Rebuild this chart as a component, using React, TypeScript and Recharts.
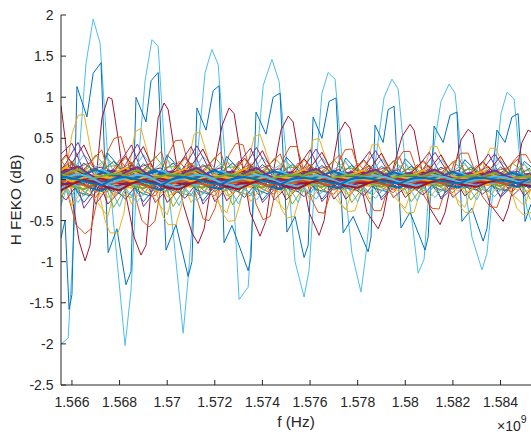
import React from 'react';
import { LineChart, Line, XAxis, YAxis } from 'recharts';

// frequency axis in MHz, labels shown in units of 1e9 Hz
const X_TICKS = [1566, 1568, 1570, 1572, 1574, 1576, 1578, 1580, 1582, 1584];
const Y_TICKS = [-2.5, -2, -1.5, -1, -0.5, 0, 0.5, 1, 1.5, 2];

const C = {
  blue: '#0072BD', orange: '#D95319', yellow: '#EDB120', purple: '#7E2F8E',
  green: '#77AC30', cyan: '#4DBEEE', red: '#A2142F',
};

// large-ripple traces (corner points)
const LB_F = [1565.54, 1565.84, 1566.17, 1566.59, 1566.89, 1567.18, 1567.52, 1567.77, 1568.23, 1568.48, 1568.73, 1569.07, 1569.36, 1569.62, 1569.95, 1570.20, 1570.67, 1570.88, 1571.21, 1571.59, 1571.88, 1572.14, 1572.47, 1572.77, 1573.02, 1573.40, 1573.69, 1574.03, 1574.40, 1574.70, 1575.03, 1575.37, 1575.75, 1575.96, 1576.21, 1576.50, 1576.76, 1577.05, 1577.39, 1577.76, 1578.14, 1578.35, 1578.69, 1579.11, 1579.44, 1579.70, 1580.03, 1580.28, 1580.54, 1580.79, 1581.04, 1581.50, 1581.84, 1582.09, 1582.43, 1582.80, 1583.22, 1583.43, 1583.73, 1584.02, 1584.27, 1584.57, 1584.86, 1585.11, 1585.28];
const LB_V = [-2.0, -1.93, -0.2, 1.41, 1.95, 1.66, 0.2, -0.6, -2.02, -1.35, 0, 1.2, 1.70, 1.62, 0.1, -0.5, -1.87, -1.2, 0.1, 1.3, 1.58, 1.4, 0.1, -0.1, -1.46, -1.31, 0, 1.14, 1.46, 1.19, 0.2, -1.0, -1.43, -1.1, 0, 1.05, 1.3, 1.22, 0.1, -0.9, -1.37, -0.9, 0.1, 1.0, 1.22, 1.1, 0.1, -0.5, -1.14, -0.97, 0.1, 0.95, 1.16, 1.05, 0.1, -0.7, -1.1, -0.9, 0, 0.8, 1.06, 0.98, 0.1, -0.35, -0.5];

const DB_F = [1565.54, 1565.71, 1565.88, 1566.00, 1566.21, 1566.63, 1566.89, 1567.22, 1567.52, 1567.89, 1568.27, 1568.48, 1568.69, 1569.11, 1569.32, 1569.62, 1569.95, 1570.37, 1570.88, 1571.04, 1571.25, 1571.63, 1571.93, 1572.18, 1572.39, 1572.72, 1573.40, 1573.52, 1573.73, 1574.15, 1574.45, 1574.74, 1575.03, 1575.37, 1575.75, 1575.92, 1576.13, 1576.50, 1576.80, 1577.09, 1577.39, 1577.81, 1578.44, 1578.56, 1578.73, 1579.07, 1579.28, 1579.53, 1579.82, 1580.20, 1580.83, 1580.96, 1581.21, 1581.59, 1581.88, 1582.17, 1582.38, 1582.80, 1583.27, 1583.43, 1583.85, 1584.19, 1584.48, 1584.74, 1585.03, 1585.28];
const DB_V = [-0.71, -0.5, -1.58, -1.4, 1.13, 0.76, 1.29, 1.42, -0.89, -0.6, -1.28, -1.12, 1.0, 0.7, 1.2, 1.30, -0.86, -0.55, -1.18, -1.0, 0.87, 0.6, 1.08, 1.14, -0.77, -0.56, -1.11, -0.95, 0.82, 0.55, 1.0, 1.05, -0.64, -0.45, -0.95, -0.8, 0.76, 0.5, 0.95, 0.99, -0.65, -0.45, -0.88, -0.7, 0.66, 0.45, 0.85, 0.89, -0.59, -0.4, -0.86, -0.7, 0.65, 0.45, 0.78, 0.82, -0.51, -0.35, -0.75, -0.6, 0.6, 0.45, 0.76, 0.8, -0.51, -0.3];

const RD_F = [1565.54, 1565.71, 1566.00, 1566.30, 1566.55, 1566.76, 1567.01, 1567.26, 1567.52, 1567.68, 1567.94, 1568.27, 1568.61, 1568.90, 1569.11, 1569.36, 1569.62, 1569.87, 1570.04, 1570.33, 1570.67, 1571.04, 1571.30, 1571.55, 1571.88, 1572.30, 1572.60, 1572.81, 1573.14, 1573.48, 1573.90, 1574.15, 1574.40, 1574.78, 1575.08, 1575.29, 1575.58, 1575.96, 1576.38, 1576.59, 1576.84, 1577.18, 1577.47, 1577.68, 1578.02, 1578.39, 1578.86, 1579.07, 1579.36, 1579.86, 1580.20, 1580.37, 1580.70, 1581.04, 1581.46, 1581.67, 1581.96, 1582.34, 1582.64, 1582.85, 1583.14, 1583.56, 1584.11, 1584.32, 1584.61, 1584.90, 1585.16, 1585.28];
const RD_V = [0.9, 0.5, -0.2, -0.75, -0.99, -0.8, 0, 0.75, 1.0, 0.98, 0.5, -0.2, -0.7, -0.92, -0.8, 0, 0.75, 0.93, 0.85, 0.3, -0.3, -0.65, -0.78, -0.6, 0, 0.65, 0.87, 0.8, 0.2, -0.4, -0.69, -0.5, 0, 0.6, 0.77, 0.7, 0.2, -0.4, -0.68, -0.5, 0, 0.55, 0.70, 0.62, 0.1, -0.4, -0.60, -0.45, 0, 0.52, 0.67, 0.6, 0.1, -0.35, -0.55, -0.4, 0, 0.48, 0.61, 0.55, 0.1, -0.3, -0.51, -0.35, 0, 0.45, 0.6, 0.58];

const YL_F = [1565.54, 1565.75, 1566.00, 1566.26, 1566.51, 1566.76, 1567.10, 1567.39, 1567.60, 1567.94, 1568.19, 1568.44, 1568.65, 1568.90, 1569.15, 1569.49, 1569.83, 1570.04, 1570.37, 1570.62, 1570.88, 1571.13, 1571.38, 1571.67, 1571.97, 1572.30, 1572.56, 1572.85, 1573.10, 1573.40, 1573.65, 1573.90, 1574.19, 1574.49, 1574.78, 1575.03, 1575.33, 1575.58, 1575.87, 1576.13, 1576.38, 1576.67, 1576.97, 1577.30, 1577.60, 1577.89, 1578.14, 1578.35, 1578.60, 1578.86, 1579.15, 1579.44, 1579.78, 1580.07, 1580.37, 1580.62, 1580.87, 1581.08, 1581.33, 1581.63, 1581.92, 1582.22, 1582.51, 1582.80, 1583.06, 1583.31, 1583.56, 1583.81, 1584.11, 1584.40, 1584.69, 1584.95, 1585.28];
const YL_V = [-0.3, 0.1, 0.55, 0.78, 0.79, 0.4, -0.1, -0.5, -0.65, -0.65, -0.4, 0.2, 0.58, 0.62, 0.35, -0.1, -0.45, -0.55, -0.55, -0.3, 0.2, 0.55, 0.58, 0.3, -0.1, -0.4, -0.51, -0.5, -0.25, 0.2, 0.52, 0.55, 0.3, 0, -0.35, -0.47, -0.45, -0.2, 0.2, 0.48, 0.5, 0.25, 0, -0.3, -0.39, -0.38, -0.15, 0.15, 0.42, 0.43, 0.2, 0, -0.3, -0.41, -0.4, -0.15, 0.2, 0.4, 0.4, 0.2, 0, -0.3, -0.4, -0.4, -0.15, 0.2, 0.38, 0.38, 0.15, -0.1, -0.35, -0.43, -0.4];

const OR_F = [1565.54, 1565.84, 1566.17, 1566.55, 1566.80, 1567.10, 1567.43, 1567.77, 1568.06, 1568.36, 1568.65, 1568.94, 1569.24, 1569.49, 1569.74, 1570.04, 1570.33, 1570.62, 1570.92, 1571.21, 1571.51, 1571.76, 1572.01, 1572.30, 1572.60, 1572.89, 1573.19, 1573.48, 1573.73, 1574.03, 1574.32, 1574.57, 1574.87, 1575.16, 1575.45, 1575.75, 1576.08, 1576.34, 1576.59, 1576.88, 1577.18, 1577.47, 1577.76, 1578.06, 1578.35, 1578.69, 1578.98, 1579.28, 1579.61, 1579.91, 1580.20, 1580.49, 1580.79, 1581.12, 1581.42, 1581.71, 1582.05, 1582.34, 1582.64, 1582.93, 1583.22, 1583.56, 1583.85, 1584.15, 1584.48, 1584.78, 1585.07, 1585.28];
const OR_V = [0.2, -0.2, -0.55, -0.66, -0.6, -0.2, 0.3, 0.5, 0.52, 0.2, -0.2, -0.5, -0.58, -0.5, -0.1, 0.3, 0.47, 0.48, 0.15, -0.2, -0.48, -0.5, -0.35, 0, 0.3, 0.44, 0.42, 0.1, -0.3, -0.49, -0.45, -0.1, 0.25, 0.4, 0.4, 0.1, -0.25, -0.4, -0.41, -0.15, 0.2, 0.36, 0.37, 0.1, -0.2, -0.38, -0.38, -0.1, 0.2, 0.34, 0.34, 0.1, -0.2, -0.35, -0.36, -0.1, 0.2, 0.32, 0.32, 0.1, -0.2, -0.33, -0.34, -0.1, 0.2, 0.3, 0.3, 0.2];

// shared 0.5 MHz grids for the smaller traces
const G = [1565.5, 1566, 1566.5, 1567, 1567.5, 1568, 1568.5, 1569, 1569.5, 1570, 1570.5, 1571, 1571.5, 1572, 1572.5, 1573, 1573.5, 1574, 1574.5, 1575, 1575.5, 1576, 1576.5, 1577, 1577.5, 1578, 1578.5, 1579, 1579.5, 1580, 1580.5, 1581, 1581.5, 1582, 1582.5, 1583, 1583.5, 1584, 1584.5, 1585, 1585.5];
const G2 = [1565.25, 1565.75, 1566.25, 1566.75, 1567.25, 1567.75, 1568.25, 1568.75, 1569.25, 1569.75, 1570.25, 1570.75, 1571.25, 1571.75, 1572.25, 1572.75, 1573.25, 1573.75, 1574.25, 1574.75, 1575.25, 1575.75, 1576.25, 1576.75, 1577.25, 1577.75, 1578.25, 1578.75, 1579.25, 1579.75, 1580.25, 1580.75, 1581.25, 1581.75, 1582.25, 1582.75, 1583.25, 1583.75, 1584.25, 1584.75, 1585.25];

// medium traces
const M1 = [0.3, 0.44, 0.1, -0.3, -0.1, 0.2, 0.42, 0.05, -0.28, -0.12, 0.18, 0.4, 0.08, -0.27, -0.1, 0.2, 0.38, 0.05, -0.25, -0.1, 0.15, 0.36, 0.06, -0.24, -0.08, 0.15, 0.34, 0.04, -0.22, -0.1, 0.14, 0.33, 0.05, -0.22, -0.08, 0.12, 0.31, 0.04, -0.2, -0.06, 0.12];
const M2 = [0.05, -0.2, 0.1, 0.3, 0.12, -0.18, -0.22, 0.1, 0.28, 0.1, -0.16, -0.2, 0.08, 0.27, 0.1, -0.15, -0.2, 0.06, 0.26, 0.12, -0.12, -0.18, 0.05, 0.24, 0.1, -0.12, -0.17, 0.05, 0.23, 0.1, -0.1, -0.16, 0.04, 0.22, 0.1, -0.1, -0.15, 0.04, 0.2, 0.08, -0.1];
const M3 = [-0.35, 0.1, 0.3, 0.15, -0.05, -0.33, 0.08, 0.3, 0.12, -0.05, -0.32, 0.05, 0.28, 0.14, -0.04, -0.3, 0.06, 0.27, 0.12, -0.03, -0.28, 0.05, 0.26, 0.1, -0.03, -0.27, 0.04, 0.25, 0.1, -0.02, -0.26, 0.05, 0.24, 0.1, -0.02, -0.25, 0.04, 0.23, 0.09, -0.02, -0.24];
const M4 = [0.1, -0.05, -0.28, -0.1, 0.32, 0.15, -0.05, -0.27, -0.1, 0.3, 0.14, -0.04, -0.26, -0.08, 0.28, 0.12, -0.04, -0.25, -0.08, 0.27, 0.12, -0.03, -0.24, -0.07, 0.26, 0.1, -0.03, -0.22, -0.06, 0.25, 0.1, -0.02, -0.22, -0.06, 0.24, 0.1, -0.02, -0.2, -0.05, 0.22, 0.1];
const M5 = [-0.1, 0.2, 0.42, 0.1, -0.3, -0.15, 0.18, 0.4, 0.08, -0.28, -0.12, 0.16, 0.37, 0.06, -0.26, -0.1, 0.15, 0.35, 0.05, -0.25, -0.1, 0.14, 0.33, 0.05, -0.24, -0.08, 0.12, 0.32, 0.04, -0.22, -0.08, 0.12, 0.3, 0.04, -0.2, -0.08, 0.1, 0.28, 0.04, -0.2, -0.06];
const M6 = [0.15, -0.32, -0.1, 0.12, 0.25, 0.12, -0.3, -0.1, 0.1, 0.24, 0.1, -0.28, -0.08, 0.1, 0.22, 0.1, -0.27, -0.08, 0.1, 0.22, 0.08, -0.25, -0.06, 0.08, 0.2, 0.08, -0.24, -0.06, 0.08, 0.2, 0.06, -0.23, -0.05, 0.07, 0.18, 0.06, -0.22, -0.05, 0.06, 0.18, 0.05];
const M7 = [0.25, 0.05, -0.15, -0.22, 0.02, 0.24, 0.06, -0.14, -0.2, 0.02, 0.22, 0.05, -0.13, -0.2, 0.02, 0.22, 0.05, -0.12, -0.18, 0.02, 0.2, 0.04, -0.12, -0.18, 0.01, 0.2, 0.04, -0.1, -0.16, 0.01, 0.18, 0.04, -0.1, -0.16, 0.01, 0.17, 0.03, -0.1, -0.15, 0.01, 0.16];
const M8 = [0.05, 0.2, -0.35, -0.15, 0.12, 0.06, 0.18, -0.33, -0.14, 0.1, 0.05, 0.17, -0.3, -0.12, 0.1, 0.05, 0.16, -0.28, -0.12, 0.08, 0.04, 0.15, -0.27, -0.1, 0.08, 0.04, 0.14, -0.25, -0.1, 0.07, 0.04, 0.13, -0.24, -0.1, 0.06, 0.03, 0.12, -0.22, -0.08, 0.06, 0.03];
const M9 = [-0.05, 0.22, 0.08, -0.12, -0.15, 0.02, 0.2, 0.07, -0.12, -0.14, 0.02, 0.2, 0.06, -0.1, -0.14, 0.02, 0.18, 0.06, -0.1, -0.13, 0.02, 0.18, 0.05, -0.1, -0.12, 0.01, 0.17, 0.05, -0.09, -0.12, 0.01, 0.16, 0.05, -0.08, -0.11, 0.01, 0.15, 0.04, -0.08, -0.1, 0.01];
const M10 = [-0.1, -0.2, 0.05, 0.15, 0.26, -0.08, -0.2, 0.04, 0.14, 0.25, -0.08, -0.19, 0.04, 0.13, 0.24, -0.07, -0.18, 0.04, 0.13, 0.23, -0.06, -0.17, 0.03, 0.12, 0.22, -0.06, -0.16, 0.03, 0.11, 0.2, -0.05, -0.15, 0.03, 0.1, 0.2, -0.05, -0.14, 0.02, 0.1, 0.19, -0.05];
const M11 = [0.2, 0.05, -0.15, -0.2, 0.1, 0.22, 0.05, -0.14, -0.2, 0.08, 0.2, 0.04, -0.13, -0.18, 0.08, 0.2, 0.04, -0.12, -0.18, 0.07, 0.18, 0.04, -0.12, -0.16, 0.06, 0.17, 0.03, -0.11, -0.15, 0.06, 0.16, 0.03, -0.1, -0.15, 0.05, 0.15, 0.03, -0.1, -0.14, 0.05, 0.14];
const M12 = [-0.22, -0.05, 0.15, 0.2, 0.02, -0.2, -0.05, 0.14, 0.19, 0.02, -0.19, -0.04, 0.13, 0.18, 0.02, -0.18, -0.04, 0.12, 0.17, 0.02, -0.17, -0.04, 0.12, 0.16, 0.01, -0.16, -0.03, 0.11, 0.15, 0.01, -0.15, -0.03, 0.1, 0.15, 0.01, -0.14, -0.03, 0.1, 0.14, 0.01, -0.13];
const M13 = [0.1, 0.28, 0.12, -0.1, -0.18, 0.08, 0.26, 0.1, -0.1, -0.17, 0.08, 0.25, 0.1, -0.09, -0.16, 0.07, 0.24, 0.1, -0.09, -0.16, 0.07, 0.23, 0.09, -0.08, -0.15, 0.06, 0.22, 0.09, -0.08, -0.14, 0.06, 0.21, 0.08, -0.07, -0.14, 0.05, 0.2, 0.08, -0.07, -0.13, 0.05];
const M14 = [-0.12, -0.25, -0.05, 0.12, 0.15, -0.1, -0.24, -0.05, 0.11, 0.14, -0.1, -0.23, -0.04, 0.1, 0.14, -0.09, -0.22, -0.04, 0.1, 0.13, -0.09, -0.21, -0.04, 0.09, 0.12, -0.08, -0.2, -0.03, 0.09, 0.12, -0.08, -0.19, -0.03, 0.08, 0.11, -0.07, -0.18, -0.03, 0.08, 0.1, -0.07];
const M15 = [0.18, -0.05, -0.2, 0.02, 0.16, 0.17, -0.05, -0.19, 0.02, 0.15, 0.16, -0.04, -0.18, 0.02, 0.15, 0.15, -0.04, -0.17, 0.02, 0.14, 0.15, -0.04, -0.16, 0.01, 0.13, 0.14, -0.03, -0.15, 0.01, 0.12, 0.13, -0.03, -0.15, 0.01, 0.12, 0.12, -0.03, -0.14, 0.01, 0.11, 0.12];
const M16 = [0.05, -0.12, -0.28, -0.08, 0.12, 0.05, -0.11, -0.27, -0.08, 0.11, 0.05, -0.1, -0.26, -0.07, 0.1, 0.04, -0.1, -0.25, -0.07, 0.1, 0.04, -0.09, -0.24, -0.06, 0.09, 0.04, -0.09, -0.23, -0.06, 0.09, 0.03, -0.08, -0.22, -0.06, 0.08, 0.03, -0.08, -0.21, -0.05, 0.08, 0.03];
const M17 = [0.12, 0.3, 0.1, -0.05, -0.12, 0.1, 0.28, 0.09, -0.05, -0.12, 0.1, 0.27, 0.09, -0.04, -0.11, 0.09, 0.26, 0.08, -0.04, -0.11, 0.09, 0.25, 0.08, -0.04, -0.1, 0.08, 0.24, 0.07, -0.03, -0.1, 0.08, 0.23, 0.07, -0.03, -0.09, 0.07, 0.22, 0.07, -0.03, -0.09, 0.07];
const M18 = [-0.18, 0.05, 0.2, 0.08, -0.12, -0.17, 0.05, 0.19, 0.08, -0.11, -0.16, 0.04, 0.18, 0.07, -0.11, -0.15, 0.04, 0.18, 0.07, -0.1, -0.15, 0.04, 0.17, 0.06, -0.1, -0.14, 0.03, 0.16, 0.06, -0.09, -0.13, 0.03, 0.15, 0.06, -0.09, -0.13, 0.03, 0.15, 0.05, -0.08, -0.12];
const M19 = [0.12, 0.22, -0.02, -0.16, -0.05, 0.11, 0.21, -0.02, -0.15, -0.05, 0.1, 0.2, -0.02, -0.15, -0.04, 0.1, 0.19, -0.02, -0.14, -0.04, 0.09, 0.18, -0.01, -0.13, -0.04, 0.09, 0.17, -0.01, -0.13, -0.03, 0.08, 0.17, -0.01, -0.12, -0.03, 0.08, 0.16, -0.01, -0.11, -0.03, 0.07];
const M20 = [-0.15, -0.02, 0.12, 0.1, -0.22, -0.14, -0.02, 0.11, 0.1, -0.21, -0.13, -0.02, 0.11, 0.09, -0.2, -0.13, -0.02, 0.1, 0.09, -0.19, -0.12, -0.01, 0.1, 0.08, -0.18, -0.12, -0.01, 0.09, 0.08, -0.17, -0.11, -0.01, 0.09, 0.07, -0.16, -0.1, -0.01, 0.08, 0.07, -0.15, -0.1];
const M21 = [0, 0.2, 0.45, 0.15, -0.12, -0.05, 0.18, 0.43, 0.14, -0.12, -0.05, 0.17, 0.41, 0.13, -0.11, -0.04, 0.16, 0.39, 0.12, -0.1, -0.04, 0.15, 0.37, 0.12, -0.1, -0.04, 0.14, 0.35, 0.11, -0.09, -0.03, 0.13, 0.33, 0.1, -0.09, -0.03, 0.12, 0.31, 0.1, -0.08, -0.03];
const M22 = [0.1, 0.15, -0.05, -0.25, -0.45, 0.08, 0.14, -0.05, -0.24, -0.43, 0.08, 0.13, -0.04, -0.23, -0.41, 0.07, 0.13, -0.04, -0.22, -0.39, 0.07, 0.12, -0.04, -0.21, -0.37, 0.06, 0.11, -0.03, -0.2, -0.35, 0.06, 0.11, -0.03, -0.19, -0.34, 0.05, 0.1, -0.03, -0.18, -0.32, 0.05];
const M23 = [-0.15, -0.05, 0.05, 0.2, 0.36, -0.14, -0.05, 0.05, 0.19, 0.34, -0.13, -0.04, 0.05, 0.18, 0.33, -0.12, -0.04, 0.04, 0.17, 0.31, -0.12, -0.04, 0.04, 0.16, 0.3, -0.11, -0.03, 0.04, 0.15, 0.28, -0.1, -0.03, 0.03, 0.14, 0.27, -0.1, -0.03, 0.03, 0.13, 0.25, -0.09];
const M24 = [-0.36, -0.12, 0.08, 0.15, 0.05, -0.34, -0.11, 0.08, 0.14, 0.05, -0.33, -0.1, 0.07, 0.14, 0.04, -0.31, -0.1, 0.07, 0.13, 0.04, -0.3, -0.09, 0.06, 0.12, 0.04, -0.28, -0.09, 0.06, 0.12, 0.03, -0.27, -0.08, 0.05, 0.11, 0.03, -0.25, -0.08, 0.05, 0.1, 0.03, -0.24];

// dense band around 0 dB
const B1 = [0.08, 0.05, -0.02, 0.06, 0.1, 0.03, -0.04, 0.05, 0.09, 0.02, -0.03, 0.04, 0.08, 0.02, -0.03, 0.05, 0.08, 0.01, -0.02, 0.04, 0.07, 0.02, -0.02, 0.04, 0.07, 0.01, -0.02, 0.03, 0.06, 0.01, -0.02, 0.03, 0.06, 0.01, -0.01, 0.03, 0.05, 0.01, -0.01, 0.03, 0.05];
const B2 = [0.02, 0.06, 0.1, 0.04, -0.02, 0.03, 0.07, 0.1, 0.03, -0.01, 0.03, 0.06, 0.09, 0.03, -0.01, 0.02, 0.06, 0.08, 0.03, 0, 0.02, 0.05, 0.08, 0.02, 0, 0.02, 0.05, 0.07, 0.02, 0, 0.02, 0.05, 0.07, 0.02, 0, 0.02, 0.04, 0.06, 0.02, 0, 0.02];
const B3 = [-0.06, -0.1, -0.03, 0.02, -0.04, -0.08, -0.1, -0.02, 0.02, -0.04, -0.08, -0.09, -0.02, 0.02, -0.03, -0.07, -0.09, -0.02, 0.01, -0.03, -0.07, -0.08, -0.02, 0.01, -0.03, -0.06, -0.08, -0.02, 0.01, -0.03, -0.06, -0.07, -0.01, 0.01, -0.02, -0.05, -0.07, -0.01, 0.01, -0.02, -0.05];
const B4 = [0.12, 0.02, -0.06, -0.02, 0.08, 0.11, 0.02, -0.05, -0.02, 0.08, 0.1, 0.02, -0.05, -0.01, 0.07, 0.1, 0.02, -0.04, -0.01, 0.07, 0.09, 0.02, -0.04, -0.01, 0.06, 0.09, 0.01, -0.04, -0.01, 0.06, 0.08, 0.01, -0.03, -0.01, 0.05, 0.08, 0.01, -0.03, 0, 0.05, 0.07];
const B5 = [-0.02, -0.08, -0.12, -0.04, 0.03, -0.02, -0.07, -0.11, -0.03, 0.03, -0.02, -0.07, -0.1, -0.03, 0.02, -0.01, -0.06, -0.1, -0.03, 0.02, -0.01, -0.06, -0.09, -0.02, 0.02, -0.01, -0.05, -0.09, -0.02, 0.02, -0.01, -0.05, -0.08, -0.02, 0.01, -0.01, -0.04, -0.08, -0.02, 0.01, -0.01];
const B6 = [0.04, -0.04, -0.08, 0.02, 0.12, 0.05, -0.03, -0.07, 0.02, 0.11, 0.05, -0.03, -0.07, 0.02, 0.1, 0.04, -0.03, -0.06, 0.02, 0.1, 0.04, -0.02, -0.06, 0.02, 0.09, 0.04, -0.02, -0.05, 0.02, 0.08, 0.03, -0.02, -0.05, 0.01, 0.08, 0.03, -0.02, -0.05, 0.01, 0.07, 0.03];
const B7 = [0.1, 0.14, 0.06, 0, 0.05, 0.1, 0.13, 0.05, 0, 0.05, 0.1, 0.12, 0.05, 0.01, 0.05, 0.09, 0.12, 0.05, 0.01, 0.04, 0.09, 0.11, 0.04, 0.01, 0.04, 0.08, 0.1, 0.04, 0.01, 0.04, 0.08, 0.1, 0.04, 0.01, 0.04, 0.07, 0.09, 0.04, 0.01, 0.03, 0.07];
const B8 = [-0.04, 0.03, -0.02, -0.1, -0.14, -0.04, 0.03, -0.02, -0.09, -0.13, -0.04, 0.03, -0.02, -0.09, -0.12, -0.03, 0.02, -0.02, -0.08, -0.12, -0.03, 0.02, -0.02, -0.08, -0.11, -0.03, 0.02, -0.01, -0.07, -0.1, -0.03, 0.02, -0.01, -0.07, -0.1, -0.02, 0.02, -0.01, -0.06, -0.09, -0.02];
const B9 = [0, 0.04, 0.02, -0.03, 0, 0.04, 0.05, 0.01, -0.03, 0.01, 0.04, 0.05, 0.01, -0.02, 0.01, 0.04, 0.05, 0.01, -0.02, 0.01, 0.03, 0.04, 0.01, -0.02, 0.01, 0.03, 0.04, 0.01, -0.02, 0.01, 0.03, 0.04, 0.01, -0.01, 0.01, 0.03, 0.04, 0.01, -0.01, 0.01, 0.03];
const B10 = [0.06, 0.15, 0.08, -0.02, 0.02, 0.07, 0.14, 0.07, -0.02, 0.02, 0.07, 0.13, 0.07, -0.02, 0.02, 0.06, 0.13, 0.06, -0.01, 0.02, 0.06, 0.12, 0.06, -0.01, 0.02, 0.06, 0.11, 0.05, -0.01, 0.02, 0.05, 0.11, 0.05, -0.01, 0.01, 0.05, 0.1, 0.05, -0.01, 0.01, 0.05];
const B11 = [-0.08, -0.02, 0.04, -0.03, -0.1, -0.07, -0.01, 0.04, -0.02, -0.1, -0.07, -0.01, 0.04, -0.02, -0.09, -0.06, -0.01, 0.03, -0.02, -0.09, -0.06, -0.01, 0.03, -0.02, -0.08, -0.05, -0.01, 0.03, -0.02, -0.08, -0.05, 0, 0.03, -0.02, -0.07, -0.05, 0, 0.03, -0.01, -0.07, -0.04];
const B12 = [0.03, 0.08, 0.12, 0.05, -0.04, 0.02, 0.08, 0.11, 0.04, -0.03, 0.02, 0.07, 0.11, 0.04, -0.03, 0.02, 0.07, 0.1, 0.04, -0.03, 0.02, 0.06, 0.1, 0.04, -0.02, 0.02, 0.06, 0.09, 0.03, -0.02, 0.01, 0.05, 0.09, 0.03, -0.02, 0.01, 0.05, 0.08, 0.03, -0.02, 0.01];
const B13 = [-0.12, -0.05, 0.02, 0, -0.06, -0.11, -0.04, 0.02, 0, -0.06, -0.1, -0.04, 0.02, 0, -0.05, -0.1, -0.04, 0.02, 0, -0.05, -0.09, -0.03, 0.02, 0, -0.05, -0.09, -0.03, 0.01, 0, -0.04, -0.08, -0.03, 0.01, 0, -0.04, -0.08, -0.03, 0.01, 0, -0.04, -0.07];
const B14 = [-0.02, -0.06, -0.02, 0.03, 0.01, -0.03, -0.06, -0.02, 0.03, 0.01, -0.03, -0.06, -0.02, 0.03, 0.01, -0.03, -0.05, -0.02, 0.02, 0.01, -0.03, -0.05, -0.02, 0.02, 0.01, -0.02, -0.05, -0.02, 0.02, 0.01, -0.02, -0.04, -0.01, 0.02, 0.01, -0.02, -0.04, -0.01, 0.02, 0.01, -0.02];
const B15 = [0.05, 0, 0.06, 0.12, 0.06, 0.04, 0, 0.06, 0.11, 0.05, 0.04, 0, 0.05, 0.11, 0.05, 0.03, 0, 0.05, 0.1, 0.05, 0.03, 0, 0.05, 0.1, 0.04, 0.03, 0, 0.04, 0.09, 0.04, 0.03, 0, 0.04, 0.09, 0.04, 0.02, 0, 0.04, 0.08, 0.04, 0.02];
const B16 = [-0.05, -0.01, -0.05, -0.09, -0.03, -0.05, -0.01, -0.05, -0.09, -0.03, -0.04, -0.01, -0.04, -0.08, -0.03, -0.04, -0.01, -0.04, -0.08, -0.03, -0.04, -0.01, -0.04, -0.07, -0.02, -0.03, -0.01, -0.04, -0.07, -0.02, -0.03, -0.01, -0.03, -0.06, -0.02, -0.03, -0.01, -0.03, -0.06, -0.02, -0.03];
const B17 = [0.02, -0.02, 0.02, 0.05, 0.02, 0.02, -0.02, 0.02, 0.05, 0.02, 0.02, -0.02, 0.02, 0.05, 0.02, 0.02, -0.01, 0.02, 0.04, 0.02, 0.02, -0.01, 0.02, 0.04, 0.02, 0.01, -0.01, 0.02, 0.04, 0.02, 0.01, -0.01, 0.02, 0.04, 0.01, 0.01, -0.01, 0.01, 0.03, 0.01, 0.01];
const B18 = [0, 0.1, 0.16, 0.06, -0.03, 0, 0.09, 0.15, 0.05, -0.03, 0, 0.09, 0.14, 0.05, -0.02, 0, 0.08, 0.14, 0.05, -0.02, 0, 0.08, 0.13, 0.04, -0.02, 0, 0.07, 0.12, 0.04, -0.02, 0, 0.07, 0.12, 0.04, -0.01, 0, 0.06, 0.11, 0.04, -0.01, 0];
const B19 = [0.07, 0.02, -0.03, 0.02, 0.06, 0.07, 0.02, -0.03, 0.02, 0.06, 0.06, 0.02, -0.02, 0.02, 0.06, 0.06, 0.02, -0.02, 0.02, 0.05, 0.06, 0.02, -0.02, 0.02, 0.05, 0.05, 0.02, -0.02, 0.02, 0.05, 0.05, 0.01, -0.02, 0.01, 0.04, 0.05, 0.01, -0.01, 0.01, 0.04, 0.04];
const B20 = [-0.03, 0.02, 0.07, 0.03, -0.05, -0.03, 0.02, 0.06, 0.03, -0.05, -0.02, 0.02, 0.06, 0.03, -0.04, -0.02, 0.02, 0.06, 0.02, -0.04, -0.02, 0.02, 0.05, 0.02, -0.04, -0.02, 0.02, 0.05, 0.02, -0.03, -0.02, 0.01, 0.05, 0.02, -0.03, -0.02, 0.01, 0.04, 0.02, -0.03, -0.01];
const B21 = [-0.14, -0.06, 0, -0.04, -0.1, -0.13, -0.05, 0, -0.04, -0.1, -0.12, -0.05, 0, -0.04, -0.09, -0.12, -0.05, 0, -0.03, -0.09, -0.11, -0.04, 0, -0.03, -0.08, -0.1, -0.04, 0, -0.03, -0.08, -0.1, -0.04, 0, -0.03, -0.07, -0.09, -0.03, 0, -0.03, -0.07, -0.09];
const B22 = [0.01, 0.03, 0, -0.04, -0.07, 0.01, 0.03, 0, -0.04, -0.07, 0.01, 0.03, 0, -0.04, -0.06, 0.01, 0.03, 0, -0.03, -0.06, 0.01, 0.02, 0, -0.03, -0.06, 0.01, 0.02, 0, -0.03, -0.05, 0.01, 0.02, 0, -0.03, -0.05, 0.01, 0.02, 0, -0.02, -0.05, 0.01];

const pts = (F: number[], V: number[]) => F.map((f, i) => ({ f, v: V[i] }));

const big = [
  { data: pts(LB_F, LB_V), color: C.cyan },
  { data: pts(DB_F, DB_V), color: C.blue },
  { data: pts(RD_F, RD_V), color: C.red },
  { data: pts(YL_F, YL_V), color: C.yellow },
  { data: pts(OR_F, OR_V), color: C.orange },
];

const mid = [
  { data: pts(G, M1), color: C.purple },
  { data: pts(G, M2), color: C.green },
  { data: pts(G, M3), color: C.cyan },
  { data: pts(G, M4), color: C.blue },
  { data: pts(G, M5), color: C.red },
  { data: pts(G, M6), color: C.yellow },
  { data: pts(G, M7), color: C.orange },
  { data: pts(G, M8), color: C.purple },
  { data: pts(G, M9), color: C.green },
  { data: pts(G, M10), color: C.cyan },
  { data: pts(G2, M11), color: C.blue },
  { data: pts(G2, M12), color: C.orange },
  { data: pts(G2, M13), color: C.yellow },
  { data: pts(G2, M14), color: C.purple },
  { data: pts(G, M15), color: C.green },
  { data: pts(G2, M16), color: C.cyan },
  { data: pts(G2, M17), color: C.red },
  { data: pts(G, M18), color: C.blue },
  { data: pts(G, M19), color: C.orange },
  { data: pts(G, M20), color: C.yellow },
  { data: pts(G2, M21), color: C.purple },
  { data: pts(G, M22), color: C.yellow },
  { data: pts(G2, M23), color: C.orange },
  { data: pts(G2, M24), color: C.green },
];

const band = [
  { data: pts(G, B1), color: C.blue },
  { data: pts(G2, B2), color: C.orange },
  { data: pts(G, B3), color: C.yellow },
  { data: pts(G2, B4), color: C.purple },
  { data: pts(G, B5), color: C.green },
  { data: pts(G2, B6), color: C.cyan },
  { data: pts(G, B7), color: C.red },
  { data: pts(G2, B8), color: C.blue },
  { data: pts(G, B9), color: C.orange },
  { data: pts(G2, B10), color: C.yellow },
  { data: pts(G, B11), color: C.purple },
  { data: pts(G2, B12), color: C.green },
  { data: pts(G, B13), color: C.cyan },
  { data: pts(G2, B14), color: C.red },
  { data: pts(G, B15), color: C.blue },
  { data: pts(G2, B16), color: C.orange },
  { data: pts(G, B17), color: C.yellow },
  { data: pts(G2, B18), color: C.purple },
  { data: pts(G, B19), color: C.green },
  { data: pts(G2, B20), color: C.cyan },
  { data: pts(G, B21), color: C.red },
  { data: pts(G2, B22), color: C.blue },
];

const FONT = '"Liberation Sans", Arial, Helvetica, sans-serif';
const INK = '#262626';

const fmtX = (v: number) => String(Number((v / 1000).toFixed(3)));

const XTick = (props: any) => {
  const { x, y, payload } = props;
  return (
    <g>
      <line x1={x} y1={y} x2={x} y2={y - 5} stroke={INK} />
      <text x={x} y={y + 22} textAnchor="middle" fontSize={14} fill={INK} fontFamily={FONT}>
        {fmtX(payload.value)}
      </text>
    </g>
  );
};

const YTick = (props: any) => {
  const { x, y, payload } = props;
  return (
    <g>
      <line x1={x} y1={y} x2={x + 5} y2={y} stroke={INK} />
      <text x={x - 7.5} y={y} dy="0.36em" textAnchor="end" fontSize={14} fill={INK} fontFamily={FONT}>
        {String(payload.value)}
      </text>
    </g>
  );
};

export default function App() {
  return (
    <div style={{ position: 'absolute', left: 0, top: 0, background: '#fff' }}>
      <LineChart width={531} height={434} margin={{ top: 15, right: 0, bottom: 0, left: 0 }}>
        <XAxis
          type="number"
          dataKey="f"
          domain={[1565.54, 1585.28]}
          ticks={X_TICKS}
          allowDataOverflow
          height={49}
          tick={<XTick />}
          tickLine={false}
          tickSize={0}
          tickMargin={0}
          axisLine={{ stroke: INK }}
        />
        <YAxis
          type="number"
          domain={[-2.5, 2]}
          ticks={Y_TICKS}
          allowDataOverflow
          width={61}
          tick={<YTick />}
          tickLine={false}
          tickSize={0}
          tickMargin={0}
          axisLine={{ stroke: INK }}
        />
        {big.map((s, i) => (
          <Line key={'big' + i} data={s.data} dataKey="v" type="linear" stroke={s.color}
            strokeWidth={1} dot={false} activeDot={false} isAnimationActive={false} />
        ))}
        {mid.map((s, i) => (
          <Line key={'mid' + i} data={s.data} dataKey="v" type="linear" stroke={s.color}
            strokeWidth={1} dot={false} activeDot={false} isAnimationActive={false} />
        ))}
        {band.map((s, i) => (
          <Line key={'band' + i} data={s.data} dataKey="v" type="linear" stroke={s.color}
            strokeWidth={2} dot={false} activeDot={false} isAnimationActive={false} />
        ))}
        <text x={16} y={200} transform="rotate(-90 16 200)" textAnchor="middle" dy="0.35em" fontSize={15.4} fill={INK} fontFamily={FONT}>
          H FEKO (dB)
        </text>
        <text x={296} y={427} textAnchor="middle" fontSize={15.4} fill={INK} fontFamily={FONT}>
          f (Hz)
        </text>
        <text x={497} y={431} fontSize={14} fill={INK} fontFamily={FONT}>
          ×10<tspan dy={-8} fontSize={10.5}>9</tspan>
        </text>
      </LineChart>
    </div>
  );
}
